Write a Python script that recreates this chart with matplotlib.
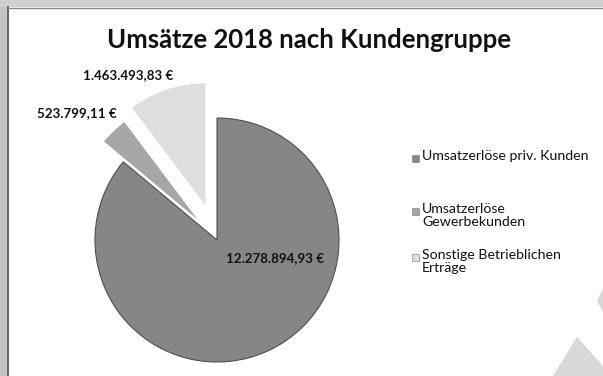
import matplotlib.pyplot as plt
from matplotlib.patches import Polygon, Rectangle

W, H = 603, 376

kundengruppen = [
    "Umsatzerlöse priv. Kunden",
    "Umsatzerlöse\nGewerbekunden",
    "Sonstige Betrieblichen\nErträge",
]
umsatz_2018 = [12278894.93, 523799.11, 1463493.83]
farben = ["#868686", "#a6a6a6", "#dedede"]


def euro(v):
    # German number format: 1.234.567,89 €
    s = f"{v:,.2f}".replace(",", "X").replace(".", ",").replace("X", ".")
    return s + " €"


def fx(px):
    return px / W


def fy(py):
    return 1 - py / H


plt.rcParams["font.family"] = ["Lato", "DejaVu Sans"]
fig = plt.figure(figsize=(W / 100, H / 100), dpi=100)
fig.patch.set_facecolor("white")

# scanned page margin and frame lines
fig.patches.append(Rectangle((0, 0), fx(7), 1, transform=fig.transFigure,
                             facecolor="#c4c4c4", edgecolor="none"))
fig.patches.append(Rectangle((0, fy(7)), 1, 1 - fy(7), transform=fig.transFigure,
                             facecolor="#d0d0d0", edgecolor="none"))
fig.lines.append(plt.Line2D([fx(7.5), fx(7.5)], [0, fy(7)], transform=fig.transFigure,
                            color="#4a4a4a", linewidth=1.2))
fig.lines.append(plt.Line2D([fx(7.5), 1], [fy(7.5), fy(7.5)], transform=fig.transFigure,
                            color="#8a8a8a", linewidth=1.0))

# grey scan smudges bottom right
fig.patches.append(Polygon([(fx(553), fy(376)), (fx(577), fy(337)), (fx(603), fy(366)),
                            (fx(603), fy(376))], closed=True, transform=fig.transFigure,
                           facecolor="#d8d8d8", edgecolor="none"))
fig.patches.append(Polygon([(fx(603), fy(288)), (fx(597), fy(301)), (fx(603), fy(312))],
                           closed=True, transform=fig.transFigure,
                           facecolor="#d8d8d8", edgecolor="none"))

fig.text(fx(309), fy(40), "Umsätze 2018 nach Kundengruppe", ha="center", va="center",
         fontsize=18.5, fontweight="bold", color="#111111")

# pie centre (217, 240) px, radius 122 px
cx, cy, r = 217, 240, 122
half = 165
ax = fig.add_axes([fx(cx - half), fy(cy + half), 2 * half / W, 2 * half / H])
wedges, _ = ax.pie(umsatz_2018, colors=farben, startangle=90, counterclock=False,
                   explode=[0, 0.23, 0.30], radius=1)
wedges[0].set_edgecolor("#4f4f4f")
wedges[0].set_linewidth(0.8)
for w in wedges:
    w.set_clip_on(False)
ax.set_xlim(-half / r, half / r)
ax.set_ylim(-half / r, half / r)
ax.set_aspect("equal")
ax.axis("off")

label_px = [(275, 258), (77, 113), (128, 75)]
for v, (px, py) in zip(umsatz_2018, label_px):
    ax.text((px - cx) / r, (cy - py) / r, euro(v), ha="center", va="center",
            fontsize=9.6, fontweight="bold", color="#111111", clip_on=False)

# legend, drawn entry by entry
legend_y = [158, 211, 257]
for name, col, y in zip(kundengruppen, farben, legend_y):
    fig.patches.append(Rectangle((fx(412), fy(y + 3.5)), 7 / W, 7 / H,
                                 transform=fig.transFigure, facecolor=col,
                                 edgecolor="#777777", linewidth=0.4))
    fig.text(fx(422), fy(y - 8), name, ha="left", va="top", fontsize=10.2,
             color="#111111", linespacing=1.15)

fig.savefig("out.png", dpi=100)
